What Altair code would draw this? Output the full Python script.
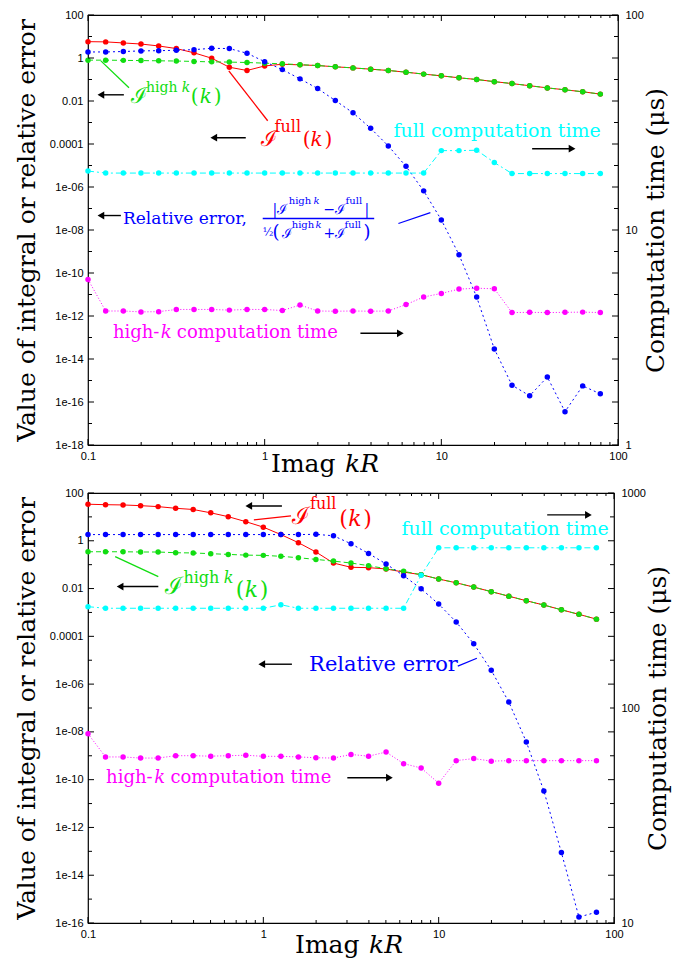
import altair as alt
import pandas as pd

# ---------------- data ----------------
KR = [0.1, 0.1259, 0.1585, 0.1995, 0.2512, 0.3162, 0.3981, 0.5012, 0.631, 0.7943,
      1.0, 1.259, 1.585, 1.995, 2.512, 3.162, 3.981, 5.012, 6.31, 7.943,
      10.0, 12.59, 15.85, 19.95, 25.12, 31.62, 39.81, 50.12, 63.1, 79.43]

# top panel
TOP_FULL = [5.75, 5.62, 5.01, 4.47, 3.63, 2.75, 1.74, 0.977, 0.372, 0.263,
            0.427, 0.513, 0.479, 0.447, 0.389, 0.347, 0.302, 0.263, 0.219, 0.178,
            0.148, 0.120, 0.100, 0.0794, 0.0646, 0.0513, 0.0407, 0.0331, 0.0269, 0.0209]
TOP_HIGHK = [0.794, 0.794, 0.776, 0.759, 0.741, 0.724, 0.692, 0.661, 0.646, 0.617,
             0.575, 0.537, 0.490, 0.447, 0.389, 0.347, 0.302, 0.263, 0.219, 0.178,
             0.148, 0.120, 0.100, 0.0794, 0.0646, 0.0513, 0.0407, 0.0331, 0.0269, 0.0209]
TOP_RELERR = [1.91, 1.91, 2.0, 2.14, 2.19, 2.29, 2.45, 2.82, 2.75, 1.66,
              0.676, 0.288, 0.107, 0.038, 0.0105, 2.82e-3, 5.37e-4, 8.13e-5, 9.12e-6, 6.61e-7,
              2.95e-8, 7.08e-10, 7.59e-12, 2.95e-14, 6.03e-16, 1.95e-16, 1.45e-15, 3.55e-17, 5.62e-16, 2.40e-16]
TOP_FULL_TIME = [18.8, 18.4, 18.4, 18.4, 18.4, 18.4, 18.4, 18.4, 18.4, 18.4,
                 18.4, 18.4, 18.4, 18.4, 18.4, 18.4, 18.4, 18.4, 18.4, 18.4,
                 23.4, 23.4, 23.5, 20.6, 18.3, 18.3, 18.3, 18.3, 18.3, 18.3]
TOP_HIGHK_TIME = [5.89, 4.20, 4.20, 4.16, 4.17, 4.27, 4.27, 4.27, 4.24, 4.27,
                  4.27, 4.22, 4.48, 4.20, 4.19, 4.20, 4.19, 4.20, 4.50, 4.88,
                  5.07, 5.31, 5.36, 5.33, 4.13, 4.14, 4.13, 4.14, 4.15, 4.13]

# bottom panel
BOT_FULL = [33.9, 32.4, 31.6, 29.5, 26.9, 22.9, 20.4, 14.8, 10.2, 6.31,
            3.72, 1.82, 0.832, 0.339, 0.117, 0.0776, 0.0750, 0.0661, 0.0490, 0.0380,
            0.0251, 0.0174, 0.0115, 0.00741, 0.00479, 0.00309, 0.00204, 0.00129, 0.000832, 0.000525]
BOT_HIGHK = [0.347, 0.347, 0.347, 0.339, 0.339, 0.316, 0.309, 0.288, 0.269, 0.251,
             0.245, 0.224, 0.195, 0.166, 0.141, 0.117, 0.0912, 0.0676, 0.0525, 0.0380,
             0.0251, 0.0174, 0.0115, 0.00741, 0.00479, 0.00309, 0.00204, 0.00129, 0.000832, 0.000525]
BOT_RELERR = [1.82, 1.82, 1.82, 1.82, 1.82, 1.82, 1.82, 1.82, 1.82, 1.82,
              1.82, 1.82, 1.82, 1.86, 1.62, 0.750, 0.295, 0.107, 0.0347, 0.00977,
              0.00224, 3.98e-4, 4.90e-5, 3.80e-6, 1.78e-7, 3.80e-9, 3.39e-11, 8.91e-14, 1.78e-16, 2.82e-16]
BOT_FULL_TIME = [296, 291, 291, 291, 291, 291, 291, 291, 291, 291,
                 291, 302, 291, 291, 291, 291, 291, 291, 291, 414,
                 556, 556, 556, 556, 556, 556, 556, 556, 556, 556]
BOT_HIGHK_TIME = [75.9, 59.2, 59.2, 58.5, 58.5, 60.0, 60.0, 59.7, 60.0, 60.3,
                  59.6, 59.6, 59.2, 58.7, 58.5, 60.8, 59.7, 62.4, 55.1, 52.6,
                  44.7, 56.9, 58.2, 56.6, 56.9, 56.9, 56.9, 56.9, 56.9, 56.9]

X_MAJOR = [0.1, 1, 10, 100]
X_MINOR = [0.2, 0.3, 0.4, 0.5, 0.6, 0.7, 0.8, 0.9, 2, 3, 4, 5, 6, 7, 8, 9,
           20, 30, 40, 50, 60, 70, 80, 90]
TOP_L_MAJOR = [1e-18, 1e-16, 1e-14, 1e-12, 1e-10, 1e-08, 1e-06, 1e-04, 1e-02, 1, 100]
TOP_L_MINOR = [1e-17, 1e-15, 1e-13, 1e-11, 1e-09, 1e-07, 1e-05, 1e-03, 1e-01, 10]
BOT_L_MAJOR = [1e-16, 1e-14, 1e-12, 1e-10, 1e-08, 1e-06, 1e-04, 1e-02, 1, 100]
BOT_L_MINOR = [1e-15, 1e-13, 1e-11, 1e-09, 1e-07, 1e-05, 1e-03, 1e-01, 10]
TOP_R_LABELS = [1, 10, 100]
BOT_R_LABELS = [10, 100, 1000]

# ---------------- styling ----------------
SERIF = "DejaVu Serif"
SANS = "Liberation Sans"
RED, GREEN, BLUE, CYAN, MAGENTA = "#ff0000", "#11dd11", "#0000ff", "#00ffff", "#ff00ff"

# annotation pieces: (text, log10 kR, log10 value, font size, colour, italic)
TOP_TEXT = [
    ("ℐ", -0.757, -2.083, 22, GREEN, False), ("high", -0.672, -1.573, 14, GREEN, False),
    ("k", -0.469, -1.573, 14, GREEN, True), ("(", -0.418, -2.083, 20, GREEN, False),
    ("k", -0.367, -2.083, 20, GREEN, True), (")", -0.288, -2.083, 20, GREEN, False),
    ("ℐ", -0.023, -4.079, 22, RED, False), ("full", 0.056, -3.429, 16, RED, False),
    ("(", 0.215, -4.079, 20, RED, False), ("k", 0.260, -4.079, 20, RED, True),
    (")", 0.339, -4.079, 20, RED, False),
    ("full computation time", 0.729, -3.661, 19, CYAN, False),
    ("Relative error,", -0.802, -7.698, 17, BLUE, False),
    ("|ℐ", 0.045, -7.234, 14, BLUE, False), ("high", 0.136, -6.770, 10, BLUE, False),
    ("k", 0.277, -6.770, 10, BLUE, True), ("−ℐ", 0.333, -7.234, 14, BLUE, False),
    ("full", 0.458, -6.770, 10, BLUE, False), ("|", 0.565, -7.234, 14, BLUE, False),
    ("½", -0.011, -8.300, 11, BLUE, False), ("(", 0.045, -8.394, 18, BLUE, False),
    ("ℐ", 0.096, -8.394, 14, BLUE, False), ("high", 0.153, -7.884, 10, BLUE, False),
    ("k", 0.288, -7.884, 10, BLUE, True), ("+ℐ", 0.333, -8.394, 14, BLUE, False),
    ("full", 0.452, -7.884, 10, BLUE, False), (")", 0.559, -8.394, 18, BLUE, False),
    ("high-", -0.859, -13.035, 18, MAGENTA, False), ("k", -0.588, -13.035, 18, MAGENTA, True),
    ("computation time", -0.497, -13.035, 18, MAGENTA, False),
]
TOP_LEADERS = [(-0.927, -0.135, -0.768, -1.387, GREEN), (-0.203, -0.599, 0.017, -2.919, RED),
               (0.757, -7.698, 0.938, -7.188, BLUE), (-0.011, -7.466, 0.62, -7.466, BLUE)]
TOP_ARROWS = [(-0.797, -0.927, -1.712), (-0.107, -0.288, -3.708), (1.514, 1.740, -4.218),
              (-0.814, -0.927, -7.327), (0.542, 0.768, -12.803)]

BOT_TEXT = [
    ("ℐ", 0.163, 0.708, 24, RED, False), ("full", 0.266, 1.333, 16, RED, False),
    ("(", 0.433, 0.625, 22, RED, False), ("k", 0.484, 0.625, 22, RED, True),
    (")", 0.570, 0.625, 22, RED, False),
    ("ℐ", -0.559, -2.208, 24, GREEN, False), ("high", -0.456, -1.75, 16, GREEN, False),
    ("k", -0.226, -1.75, 16, GREEN, True), ("(", -0.158, -2.333, 22, GREEN, False),
    ("k", -0.106, -2.333, 22, GREEN, True), (")", -0.020, -2.333, 22, GREEN, False),
    ("full computation time", 0.788, 0.25, 19, CYAN, False),
    ("Relative error", 0.261, -5.458, 21, BLUE, False),
    ("high-", -0.897, -10.125, 18, MAGENTA, False), ("k", -0.622, -10.125, 18, MAGENTA, True),
    ("computation time", -0.530, -10.125, 18, MAGENTA, False),
]
BOT_LEADERS = [(-0.054, 0.875, 0.158, 1.042, RED), (-0.845, -0.667, -0.599, -1.5, GREEN),
               (1.109, -5.25, 1.218, -4.917, BLUE)]
BOT_ARROWS = [(0.106, -0.083, 1.458), (-0.599, -0.817, -1.917), (1.619, 1.854, 1.083),
              (0.163, -0.009, -5.167), (0.479, 0.719, -9.917)]

LABEL_EXPR = ("datum.value >= 0.0001 ? format(datum.value, '~g') : "
              "'1e-' + format(round(-log(datum.value) / LN10), '02d')")


def panel(W, H, ldom, rdom, left_series, right_series, lmaj, lmin, rlabels,
          texts, leaders, arrows, title_x, title_kx, title_dy):
    xsc = alt.Scale(type="log", domain=[0.1, 100])
    ylsc = alt.Scale(type="log", domain=ldom)
    yrsc = alt.Scale(type="log", domain=rdom)
    xaxis = alt.Axis(values=X_MAJOR, format="~g", ticks=False, domain=False, grid=False,
                     title=None, labelPadding=5, labelFlush=False, labelOverlap=False)
    ylaxis = alt.Axis(values=lmaj, labelExpr=LABEL_EXPR, ticks=False, domain=False, grid=False,
                      title="Value of integral or relative error", titlePadding=10,
                      labelPadding=5, labelOverlap=False)
    yraxis = alt.Axis(orient="right", values=rlabels, format="~g", ticks=False, domain=False,
                      grid=False, title="Computation time (μs)", titleAngle=270,
                      titlePadding=25, labelPadding=7, labelOverlap=False)

    def X(f):
        return alt.X(f, type="quantitative", scale=xsc, axis=xaxis)

    def YL(f):
        return alt.Y(f, type="quantitative", scale=ylsc, axis=ylaxis)

    def YR(f):
        return alt.Y(f, type="quantitative", scale=yrsc, axis=yraxis)

    def series(vals, color, dash, Y):
        df = pd.DataFrame({"kR": KR, "v": vals})
        lk = dict(color=color, strokeWidth=1)
        if dash:
            lk["strokeDash"] = dash
        line = alt.Chart(df).mark_line(**lk).encode(x=X("kR"), y=Y("v"))
        pts = alt.Chart(df).mark_circle(color=color, size=30, opacity=1).encode(x=X("kR"), y=Y("v"))
        return [line, pts]

    left_layers = []
    for vals, color, dash in left_series:
        left_layers += series(vals, color, dash, YL)

    # inward ticks (left, mirrored right, bottom, top)
    for vals, ln in ((lmaj, 6), (lmin, 4)):
        d = pd.DataFrame({"v": vals})
        left_layers.append(alt.Chart(d).mark_rule(color="black", strokeWidth=1).encode(
            y=YL("v"), x=alt.value(0), x2=alt.value(ln)))
        left_layers.append(alt.Chart(d).mark_rule(color="black", strokeWidth=1).encode(
            y=YL("v"), x=alt.value(W), x2=alt.value(W - ln)))
    for vals, ln in ((X_MAJOR, 6), (X_MINOR, 3)):
        d = pd.DataFrame({"v": vals})
        left_layers.append(alt.Chart(d).mark_rule(color="black", strokeWidth=1).encode(
            x=X("v"), y=alt.value(H), y2=alt.value(H - ln)))
        left_layers.append(alt.Chart(d).mark_rule(color="black", strokeWidth=1).encode(
            x=X("v"), y=alt.value(0), y2=alt.value(ln)))

    # annotation text
    tdf = pd.DataFrame([{"t": t, "x": 10 ** lx, "y": 10 ** ly, "size": s, "color": c, "it": it}
                        for t, lx, ly, s, c, it in texts])
    for it in (False, True):
        sub = tdf[tdf["it"] == it]
        mk = dict(align="left", baseline="alphabetic", font=SERIF)
        if it:
            mk["fontStyle"] = "italic"
        left_layers.append(alt.Chart(sub).mark_text(**mk).encode(
            x=X("x"), y=YL("y"), text="t:N",
            size=alt.Size("size:Q", scale=None), color=alt.Color("color:N", scale=None)))

    ldf = pd.DataFrame([{"x1": 10 ** a, "y1": 10 ** b, "x2": 10 ** c, "y2": 10 ** d, "color": col}
                        for a, b, c, d, col in leaders])
    left_layers.append(alt.Chart(ldf).mark_rule(strokeWidth=1.3).encode(
        x=X("x1"), y=YL("y1"), x2="x2", y2="y2", color=alt.Color("color:N", scale=None)))

    adf = pd.DataFrame([{"x1": 10 ** t, "x2": 10 ** h, "y": 10 ** y,
                         "shape": "triangle-left" if h < t else "triangle-right"}
                        for t, h, y in arrows])
    left_layers.append(alt.Chart(adf).mark_rule(color="black", strokeWidth=1.4).encode(
        x=X("x1"), x2="x2", y=YL("y")))
    left_layers.append(alt.Chart(adf).mark_point(filled=True, color="black", opacity=1, size=60).encode(
        x=X("x2"), y=YL("y"), shape=alt.Shape("shape:N", scale=None)))

    # x-axis title "Imag kR"
    one = pd.DataFrame({"t": ["Imag"]})
    left_layers.append(alt.Chart(one).mark_text(align="left", baseline="alphabetic", font=SERIF,
                                                fontSize=25, color="black").encode(
        x=alt.value(title_x), y=alt.value(H + title_dy), text=alt.value("Imag")))
    left_layers.append(alt.Chart(one).mark_text(align="left", baseline="alphabetic", font=SERIF,
                                                fontSize=25, fontStyle="italic", color="black").encode(
        x=alt.value(title_kx), y=alt.value(H + title_dy), text=alt.value("kR")))

    right_layers = []
    for vals, color, dash in right_series:
        right_layers += series(vals, color, dash, YR)

    left = alt.layer(*left_layers)
    right = alt.layer(*right_layers)
    return alt.layer(left, right).resolve_scale(y="independent").properties(width=W, height=H)


top = panel(530, 430, [1e-18, 100], [1, 100],
            [(TOP_FULL, RED, None), (TOP_HIGHK, GREEN, [5, 3]), (TOP_RELERR, BLUE, [2, 3])],
            [(TOP_FULL_TIME, CYAN, [6, 3, 2, 3]), (TOP_HIGHK_TIME, MAGENTA, [1, 2])],
            TOP_L_MAJOR, TOP_L_MINOR, TOP_R_LABELS,
            TOP_TEXT, TOP_LEADERS, TOP_ARROWS, 183, 257, 27)

bottom = panel(526, 430, [1e-16, 100], [10, 1000],
               [(BOT_FULL, RED, None), (BOT_HIGHK, GREEN, [5, 3]), (BOT_RELERR, BLUE, [2, 3])],
               [(BOT_FULL_TIME, CYAN, [6, 3, 2, 3]), (BOT_HIGHK_TIME, MAGENTA, [1, 2])],
               BOT_L_MAJOR, BOT_L_MINOR, BOT_R_LABELS,
               BOT_TEXT, BOT_LEADERS, BOT_ARROWS, 207, 281, 30)

chart = alt.vconcat(top, bottom, spacing=8).configure_view(
    stroke="black", strokeWidth=1.2
).configure_axis(
    labelFont=SANS, labelFontSize=11, labelColor="black",
    titleFont=SERIF, titleFontSize=25, titleFontWeight="normal", titleColor="black"
).properties(padding={"left": 5, "top": 0, "right": 0, "bottom": 0})

chart.save("out.html", embed_options={"renderer": "svg", "actions": False})
